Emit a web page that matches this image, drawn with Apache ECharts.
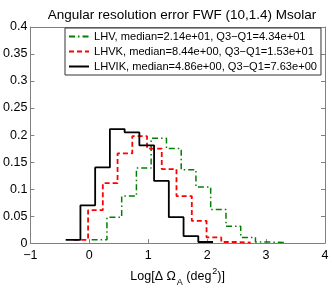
<!DOCTYPE html>
<html><head><meta charset="utf-8">
<script src="https://cdn.jsdelivr.net/npm/echarts@6/dist/echarts.min.js"></script>
<style>html,body{margin:0;padding:0;background:#fff}#c{width:332px;height:292px}</style>
</head><body><div id="c"></div>
<script>
const titleText = 'Angular resolution error FWF (10,1.4) Msolar';
const seriesNames = [
  'LHV, median=2.14e+01, Q3\u2212Q1=4.34e+01',
  'LHVK, median=8.44e+00, Q3\u2212Q1=1.53e+01',
  'LHVIK, median=4.86e+00, Q3\u2212Q1=7.63e+00'
];
// bin edges (log10 of deg^2) and normalized counts
const lhvEdges   = [0.04, 0.30, 0.55, 0.80, 1.05, 1.31, 1.56, 1.81, 2.06, 2.32, 2.57, 2.82, 3.07, 3.32];
const lhvValues  = [0.006, 0.048, 0.087, 0.139, 0.194, 0.175, 0.136, 0.104, 0.062, 0.031, 0.0105, 0.002, 0.001];
const lhvkEdges  = [-0.27, -0.02, 0.23, 0.48, 0.73, 0.98, 1.23, 1.48, 1.74, 1.99, 2.24, 2.49, 2.74];
const lhvkValues = [0.006, 0.061, 0.111, 0.166, 0.198, 0.175, 0.137, 0.087, 0.041, 0.0105, 0.002, 0.001];
const lhvikEdges = [-0.40, -0.15, 0.10, 0.35, 0.60, 0.85, 1.10, 1.35, 1.60, 1.85, 2.10];
const lhvikValues= [0.006, 0.070, 0.140, 0.211, 0.205, 0.181, 0.115, 0.048, 0.013, 0.002];
const xTicks = [-1, 0, 1, 2, 3, 4];
const yTicks = [0, 0.05, 0.1, 0.15, 0.2, 0.25, 0.3, 0.35, 0.4];

function stairs(edges, values) {
  const d = [];
  for (let i = 0; i < values.length; i++) d.push([edges[i], values[i]]);
  d.push([edges[values.length], values[values.length - 1]]);
  return d;
}
const axisGray = '#808080';
const chart = echarts.init(document.getElementById('c'), null, {renderer: 'canvas'});
const fontFam = '"Liberation Sans", Arial, Helvetica, sans-serif';
function baseX(extra) {
  return Object.assign({
    type: 'value', min: xTicks[0], max: xTicks[xTicks.length - 1], interval: 1,
    axisLine: {show: true, onZero: false, lineStyle: {color: axisGray, width: 1}},
    axisTick: {show: true, inside: true, length: 4, lineStyle: {color: axisGray}},
    splitLine: {show: false}
  }, extra);
}
function baseY(extra) {
  return Object.assign({
    type: 'value', min: yTicks[0], max: yTicks[yTicks.length - 1], interval: 0.05,
    axisLine: {show: true, onZero: false, lineStyle: {color: axisGray, width: 1}},
    axisTick: {show: true, inside: true, length: 4, lineStyle: {color: axisGray}},
    splitLine: {show: false}
  }, extra);
}
const option = {
  animation: false,
  textStyle: {fontFamily: fontFam},
  title: {
    text: titleText, left: 177, top: 3, textAlign: 'center',
    textStyle: {fontSize: 13.5, fontWeight: 'normal', color: '#000', fontFamily: fontFam}
  },
  grid: {left: 28, right: 7, top: 27, bottom: 37},
  legend: {
    orient: 'vertical', left: 65, top: 28,
    data: seriesNames,
    padding: [3, 4, 3, 3], itemGap: 4, itemWidth: 20, itemHeight: 10,
    borderColor: '#333', borderWidth: 1, backgroundColor: '#fff',
    itemStyle: {opacity: 0},
    textStyle: {fontSize: 11.1, color: '#000', fontFamily: fontFam}
  },
  xAxis: [
    baseX({
      position: 'bottom',
      axisLabel: {show: true, color: '#000', fontSize: 12.5, margin: 6, fontFamily: fontFam,
        formatter: v => String(v).replace('-', '\u2212')},
      name: '{n|Log[\u0394 \u03A9}{sub|A}{n| (deg}{sup|2}{n|)]}',
      nameLocation: 'middle', nameGap: 22,
      nameTextStyle: {
        color: '#000', fontFamily: fontFam,
        rich: {
          n: {fontSize: 12.5, color: '#000', fontFamily: fontFam, lineHeight: 14},
          sub: {fontSize: 9, color: '#000', fontFamily: fontFam, lineHeight: 10, padding: [11, 0, 0, 1]},
          sup: {fontSize: 9, color: '#000', fontFamily: fontFam, lineHeight: 10, padding: [0, 0, 11, 1]}
        }
      }
    }),
    baseX({position: 'top', axisLabel: {show: false}})
  ],
  yAxis: [
    baseY({position: 'left', axisLabel: {show: true, color: '#000', fontSize: 12.5, margin: 3, fontFamily: fontFam}}),
    baseY({position: 'right', axisLabel: {show: false}})
  ],
  series: [
    {name: seriesNames[0], type: 'line', step: 'end', symbol: 'none', data: stairs(lhvEdges, lhvValues),
      lineStyle: {color: '#008000', width: 1.5, type: [6, 3, 1.5, 3]}, itemStyle: {color: '#008000'}, z: 2},
    {name: seriesNames[1], type: 'line', step: 'end', symbol: 'none', data: stairs(lhvkEdges, lhvkValues),
      lineStyle: {color: '#ff0000', width: 1.8, type: [5, 3]}, itemStyle: {color: '#ff0000'}, z: 3},
    {name: seriesNames[2], type: 'line', step: 'end', symbol: 'none', data: stairs(lhvikEdges, lhvikValues),
      lineStyle: {color: '#000', width: 1.8, type: 'solid'}, itemStyle: {color: '#000'}, z: 4}
  ]
};
chart.setOption(option);
</script></body></html>
